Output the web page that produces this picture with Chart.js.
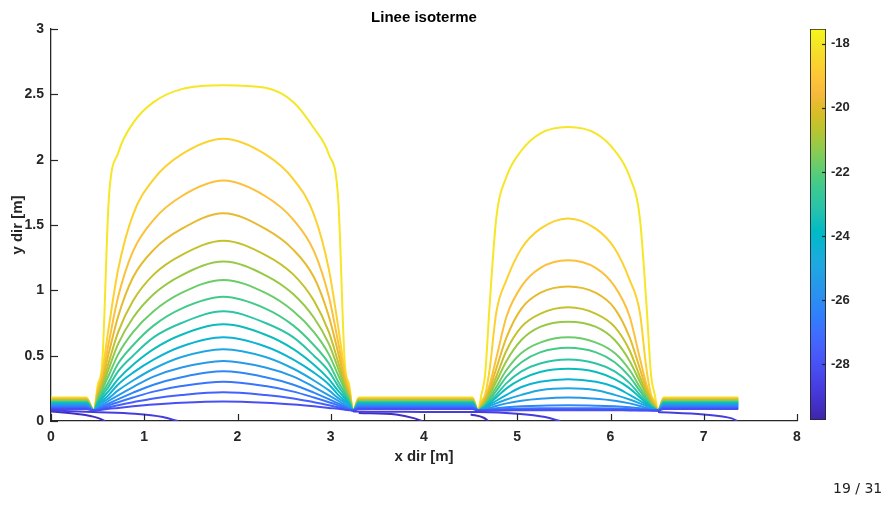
<!DOCTYPE html>
<html>
<head>
<meta charset="utf-8">
<script src="https://cdn.jsdelivr.net/npm/chart.js@4.4.0/dist/chart.umd.min.js"></script>
<style>
  html,body{margin:0;padding:0;background:#fff;width:891px;height:506px;overflow:hidden}
  #main{position:absolute;left:0;top:0}
  #cbar{position:absolute;left:800px;top:0}
  #page{position:absolute;left:833px;top:480px;font:14px "DejaVu Sans",sans-serif;color:#222}
</style>
</head>
<body>
<canvas id="main" width="820" height="470"></canvas>
<canvas id="cbar" width="70" height="440"></canvas>
<div id="page">19 / 31</div>
<script>
// livelli delle isoterme (°C), dal più caldo al più freddo
const levels = [-18.0,-18.63,-19.26,-19.89,-20.52,-21.15,-21.78,-22.41,-23.04,
                -23.67,-24.30,-24.93,-25.56,-26.19,-26.82,-27.45,-28.08];
const bottomLevels = [-28.71,-29.34];
const cbMin = -29.74, cbMax = -17.54;
const cbTicks = [-28,-26,-24,-22,-20,-18];

// quota delle isoterme nelle fasce orizzontali
const stripH = [0.180,0.175,0.170,0.165,0.160,0.155,0.150,0.145,0.140,
                0.135,0.130,0.125,0.120,0.113,0.106,0.099,0.092];
const leftStrip  = [0, 0.38];
const midStrip   = [3.30, 4.52];
const rightStrip = [6.57, 7.37];

// prima cupola
const dome1X = [0.46,0.50,0.55,0.62,0.72,0.88,1.10,1.40,1.85,2.30,2.60,2.82,2.98,3.08,3.15,3.20,3.24];
const dome1Y = [
  [0.08,0.27,0.45,1.70,2.05,2.28,2.44,2.54,2.57,2.55,2.44,2.24,2.04,1.70,0.45,0.27,0.08],
  [0.08,0.24,0.38,0.72,1.16,1.58,1.85,2.04,2.16,2.04,1.85,1.58,1.16,0.72,0.38,0.24,0.08],
  [0.08,0.22,0.34,0.60,0.95,1.30,1.54,1.72,1.84,1.72,1.54,1.30,0.95,0.60,0.34,0.22,0.08],
  [0.08,0.20,0.31,0.52,0.80,1.10,1.31,1.47,1.59,1.47,1.31,1.10,0.80,0.52,0.31,0.20,0.08],
  [0.08,0.185,0.28,0.45,0.68,0.92,1.12,1.27,1.38,1.27,1.12,0.92,0.68,0.45,0.28,0.185,0.08],
  [0.08,0.17,0.26,0.40,0.59,0.79,0.97,1.115,1.22,1.115,0.97,0.79,0.59,0.40,0.26,0.17,0.08],
  [0.08,0.16,0.24,0.35,0.51,0.68,0.84,0.98,1.08,0.98,0.84,0.68,0.51,0.35,0.24,0.16,0.08],
  [0.08,0.15,0.215,0.30,0.44,0.58,0.73,0.86,0.95,0.86,0.73,0.58,0.44,0.30,0.215,0.15,0.08],
  [0.08,0.14,0.195,0.265,0.38,0.50,0.64,0.75,0.84,0.75,0.64,0.50,0.38,0.265,0.195,0.14,0.08],
  [0.08,0.13,0.175,0.23,0.32,0.43,0.55,0.66,0.74,0.66,0.55,0.43,0.32,0.23,0.175,0.13,0.08],
  [0.08,0.12,0.155,0.20,0.28,0.37,0.47,0.57,0.64,0.57,0.47,0.37,0.28,0.20,0.155,0.12,0.08],
  [0.08,0.11,0.14,0.175,0.234,0.31,0.40,0.49,0.55,0.49,0.40,0.31,0.234,0.175,0.14,0.11,0.08],
  [0.08,0.10,0.123,0.155,0.197,0.26,0.34,0.41,0.46,0.41,0.34,0.26,0.197,0.155,0.123,0.10,0.08],
  [0.08,0.094,0.11,0.134,0.167,0.217,0.278,0.335,0.38,0.335,0.278,0.217,0.167,0.134,0.11,0.094,0.08],
  [0.08,0.09,0.102,0.12,0.144,0.18,0.225,0.267,0.30,0.267,0.225,0.18,0.144,0.12,0.102,0.09,0.08],
  [0.08,0.086,0.094,0.105,0.121,0.144,0.173,0.199,0.22,0.199,0.173,0.144,0.121,0.105,0.094,0.086,0.08],
  [0.08,0.083,0.087,0.093,0.10,0.112,0.126,0.14,0.15,0.14,0.126,0.112,0.10,0.093,0.087,0.083,0.08]
];

// seconda cupola
const dome2X = [4.58,4.615,4.655,4.705,4.775,4.885,5.045,5.245,5.545,5.845,6.045,6.205,6.315,6.385,6.435,6.475,6.51];
const dome2Y = [
  [0.08,0.20,0.35,0.90,1.55,1.87,2.07,2.20,2.25,2.20,2.07,1.87,1.55,0.90,0.35,0.20,0.08],
  [0.08,0.15,0.20,0.40,0.83,1.08,1.32,1.47,1.55,1.47,1.32,1.08,0.83,0.40,0.20,0.15,0.08],
  [0.08,0.13,0.18,0.28,0.48,0.80,1.03,1.17,1.23,1.17,1.03,0.80,0.48,0.28,0.18,0.13,0.08],
  [0.08,0.12,0.165,0.245,0.40,0.64,0.86,0.98,1.03,0.98,0.86,0.64,0.40,0.245,0.165,0.12,0.08],
  [0.08,0.11,0.15,0.22,0.34,0.54,0.72,0.82,0.87,0.82,0.72,0.54,0.34,0.22,0.15,0.11,0.08],
  [0.08,0.105,0.14,0.20,0.30,0.46,0.62,0.72,0.76,0.72,0.62,0.46,0.30,0.20,0.14,0.105,0.08],
  [0.08,0.10,0.13,0.18,0.26,0.39,0.52,0.60,0.64,0.60,0.52,0.39,0.26,0.18,0.13,0.10,0.08],
  [0.08,0.097,0.122,0.165,0.23,0.34,0.45,0.525,0.56,0.525,0.45,0.34,0.23,0.165,0.122,0.097,0.08],
  [0.08,0.094,0.114,0.15,0.20,0.29,0.38,0.44,0.47,0.44,0.38,0.29,0.20,0.15,0.114,0.094,0.08],
  [0.08,0.092,0.108,0.138,0.18,0.25,0.32,0.375,0.40,0.375,0.32,0.25,0.18,0.138,0.108,0.092,0.08],
  [0.08,0.09,0.102,0.125,0.155,0.20,0.26,0.30,0.32,0.30,0.26,0.20,0.155,0.125,0.102,0.09,0.08],
  [0.08,0.088,0.097,0.113,0.135,0.165,0.20,0.235,0.25,0.235,0.20,0.165,0.135,0.113,0.097,0.088,0.08],
  [0.08,0.085,0.092,0.10,0.115,0.135,0.155,0.17,0.18,0.17,0.155,0.135,0.115,0.10,0.092,0.085,0.08],
  [0.08,0.083,0.087,0.092,0.098,0.105,0.112,0.117,0.12,0.117,0.112,0.105,0.098,0.092,0.087,0.083,0.08],
  [0.08,0.081,0.083,0.086,0.089,0.092,0.095,0.097,0.098,0.097,0.095,0.092,0.089,0.086,0.083,0.081,0.08],
  [0.08,0.08,0.081,0.082,0.083,0.085,0.087,0.088,0.089,0.088,0.087,0.085,0.083,0.082,0.081,0.08,0.08],
  [0.08,0.08,0.08,0.08,0.081,0.081,0.082,0.082,0.082,0.082,0.082,0.081,0.081,0.08,0.08,0.08,0.08]
];

// isoterme più fredde vicino al fondo (tratti separati)
const bottomLines = [
  { lvl: 0, pts: [[0,0.082],[0.45,0.068],[0.9,0.055],[1.2,0.03],[1.36,0]] },
  { lvl: 0, pts: [[3.24,0.072],[3.8,0.07],[4.58,0.068],[5.0,0.055],[5.3,0.03],[5.46,0]] },
  { lvl: 0, pts: [[6.51,0.068],[7.0,0.05],[7.3,0.02],[7.36,0]] },
  { lvl: 1, pts: [[0,0.072],[0.3,0.052],[0.5,0.024],[0.58,0]] },
  { lvl: 1, pts: [[3.3,0.062],[3.7,0.05],[3.9,0.02],[3.98,0]] },
  { lvl: 1, pts: [[4.5,0.05],[4.64,0.025],[4.69,0]] }
];

// mappa colori parula (campionata)
const PARULA = [
  [0.2422,0.1504,0.6603],[0.2578,0.1818,0.7511],[0.2706,0.2147,0.8364],[0.2783,0.2559,0.8991],
  [0.2813,0.3006,0.9414],[0.2795,0.3447,0.9717],[0.2699,0.3892,0.9906],[0.2440,0.4358,0.9988],
  [0.1963,0.4847,0.9892],[0.1786,0.5289,0.9682],[0.1687,0.5703,0.9359],[0.1460,0.6091,0.9079],
  [0.1248,0.6459,0.8883],[0.0952,0.6798,0.8598],[0.0297,0.7082,0.8163],[0.0067,0.7312,0.7660],
  [0.0964,0.7500,0.7120],[0.1717,0.7670,0.6554],[0.2161,0.7843,0.5923],[0.2906,0.7973,0.5188],
  [0.3909,0.8029,0.4354],[0.5044,0.7993,0.3480],[0.6174,0.7876,0.2612],[0.7242,0.7698,0.1910],
  [0.8203,0.7498,0.1535],[0.9035,0.7330,0.1774],[0.9728,0.7298,0.2394],[0.9970,0.7659,0.2199],
  [0.9892,0.8136,0.1885],[0.9676,0.8639,0.1643],[0.9597,0.9135,0.1423],[0.9691,0.9606,0.1064]
];

function parulaAt(t){
  t = Math.max(0, Math.min(1, t));
  const f = t*(PARULA.length-1), i = Math.min(Math.floor(f), PARULA.length-2), r = f-i;
  const c = PARULA[i].map((v,k)=>Math.round(255*(v+(PARULA[i+1][k]-v)*r)));
  return `rgb(${c[0]},${c[1]},${c[2]})`;
}
const levelColor = v => parulaAt((v-cbMin)/(cbMax-cbMin));

function levelPath(i){
  const h = stripH[i], pts = [];
  leftStrip.forEach(x=>pts.push({x, y:h}));
  dome1X.forEach((x,j)=>pts.push({x, y:dome1Y[i][j]}));
  midStrip.forEach(x=>pts.push({x, y:h}));
  dome2X.forEach((x,j)=>pts.push({x, y:dome2Y[i][j]}));
  rightStrip.forEach(x=>pts.push({x, y:h}));
  return pts;
}

const lineDs = (data, color) => ({
  data, borderColor: color, borderWidth: 2, pointRadius: 0,
  showLine: true, fill: false, cubicInterpolationMode: 'monotone'
});

const datasets = [];
bottomLines.forEach(b=>datasets.push(lineDs(b.pts.map(p=>({x:p[0], y:p[1]})), levelColor(bottomLevels[b.lvl]))));
for(let i=levels.length-1; i>=0; i--) datasets.push(lineDs(levelPath(i), levelColor(levels[i])));

// tacche rivolte verso l'interno, come in MATLAB
const inTicks = {
  id: 'inTicks',
  afterDraw(chart, args, opts){
    const ctx = chart.ctx;
    ctx.save();
    ctx.strokeStyle = '#262626';
    ctx.lineWidth = 1.2;
    (opts.axes||[]).forEach(id=>{
      const s = chart.scales[id];
      s.ticks.forEach(t=>{
        const p = Math.round(s.getPixelForValue(t.value))+0.5;
        ctx.beginPath();
        if(s.isHorizontal()){ ctx.moveTo(p, s.top); ctx.lineTo(p, s.top-opts.len); }
        else if(s.position==='left'){ ctx.moveTo(s.right, p); ctx.lineTo(s.right+opts.len, p); }
        else { ctx.moveTo(s.left, p); ctx.lineTo(s.left-opts.len, p); }
        ctx.stroke();
      });
    });
    ctx.restore();
  }
};

Chart.defaults.font.family = '"Liberation Sans", Arial, sans-serif';
Chart.defaults.color = '#262626';

new Chart(document.getElementById('main'), {
  type: 'scatter',
  data: { datasets },
  plugins: [inTicks],
  options: {
    responsive: false,
    animation: false,
    layout: { padding: { left: 4, right: 23, top: 0, bottom: 0 } },
    plugins: {
      legend: { display: false },
      tooltip: { enabled: false },
      inTicks: { axes: ['x','y'], len: 7 }
    },
    scales: {
      top: {
        type: 'linear', position: 'top', min: 0, max: 8,
        ticks: { display: false },
        grid: { display: false, drawTicks: false },
        border: { display: false },
        title: { display: true, text: 'Linee isoterme', color: '#000',
                 font: { size: 15, weight: 'bold' }, padding: { top: 9, bottom: 0 } },
        afterFit: s => { s.height = 29; }
      },
      x: {
        type: 'linear', position: 'bottom', min: 0, max: 8,
        ticks: { stepSize: 1, padding: 8, font: { size: 14, weight: 'bold' }, color: '#262626', maxRotation: 0 },
        grid: { display: false, drawTicks: false },
        border: { display: true, color: '#262626', width: 1.3 },
        title: { display: true, text: 'x dir [m]', color: '#262626', font: { size: 15, weight: 'bold' }, padding: { top: 0, bottom: 4 } },
        afterFit: s => { s.height = 49; }
      },
      y: {
        type: 'linear', min: 0, max: 3,
        ticks: { stepSize: 0.5, padding: 7, font: { size: 14, weight: 'bold' }, color: '#262626',
                 callback: v => String(v) },
        grid: { display: false, drawTicks: false },
        border: { display: true, color: '#262626', width: 1.3 },
        title: { display: true, text: 'y dir [m]', color: '#262626', font: { size: 15, weight: 'bold' }, padding: { top: 5, bottom: 0 } },
        afterFit: s => { s.width = 47; }
      }
    }
  }
});

// barra dei colori
new Chart(document.getElementById('cbar'), {
  type: 'bar',
  data: {
    labels: [''],
    datasets: [{
      data: [[cbMin, cbMax]],
      backgroundColor: c => {
        const a = c.chart.chartArea;
        if(!a) return null;
        const g = c.chart.ctx.createLinearGradient(0, a.bottom, 0, a.top);
        PARULA.forEach((_,i)=>g.addColorStop(i/(PARULA.length-1), parulaAt(i/(PARULA.length-1))));
        return g;
      },
      borderColor: '#262626', borderWidth: 1.2, borderSkipped: false,
      barPercentage: 1, categoryPercentage: 1
    }]
  },
  plugins: [inTicks],
  options: {
    responsive: false,
    animation: false,
    layout: { padding: { left: 10, right: 0, top: 29, bottom: 20 } },
    plugins: { legend: { display: false }, tooltip: { enabled: false }, inTicks: { axes: ['y'], len: 4 } },
    scales: {
      x: { display: false },
      y: {
        position: 'right', min: cbMin, max: cbMax,
        afterBuildTicks: s => { s.ticks = cbTicks.map(v=>({value:v})); },
        ticks: { padding: 5, font: { size: 13, weight: 'bold' }, color: '#262626' },
        grid: { display: false, drawTicks: false },
        border: { display: false },
        afterFit: s => { s.width = 44; }
      }
    }
  }
});
</script>
</body>
</html>
